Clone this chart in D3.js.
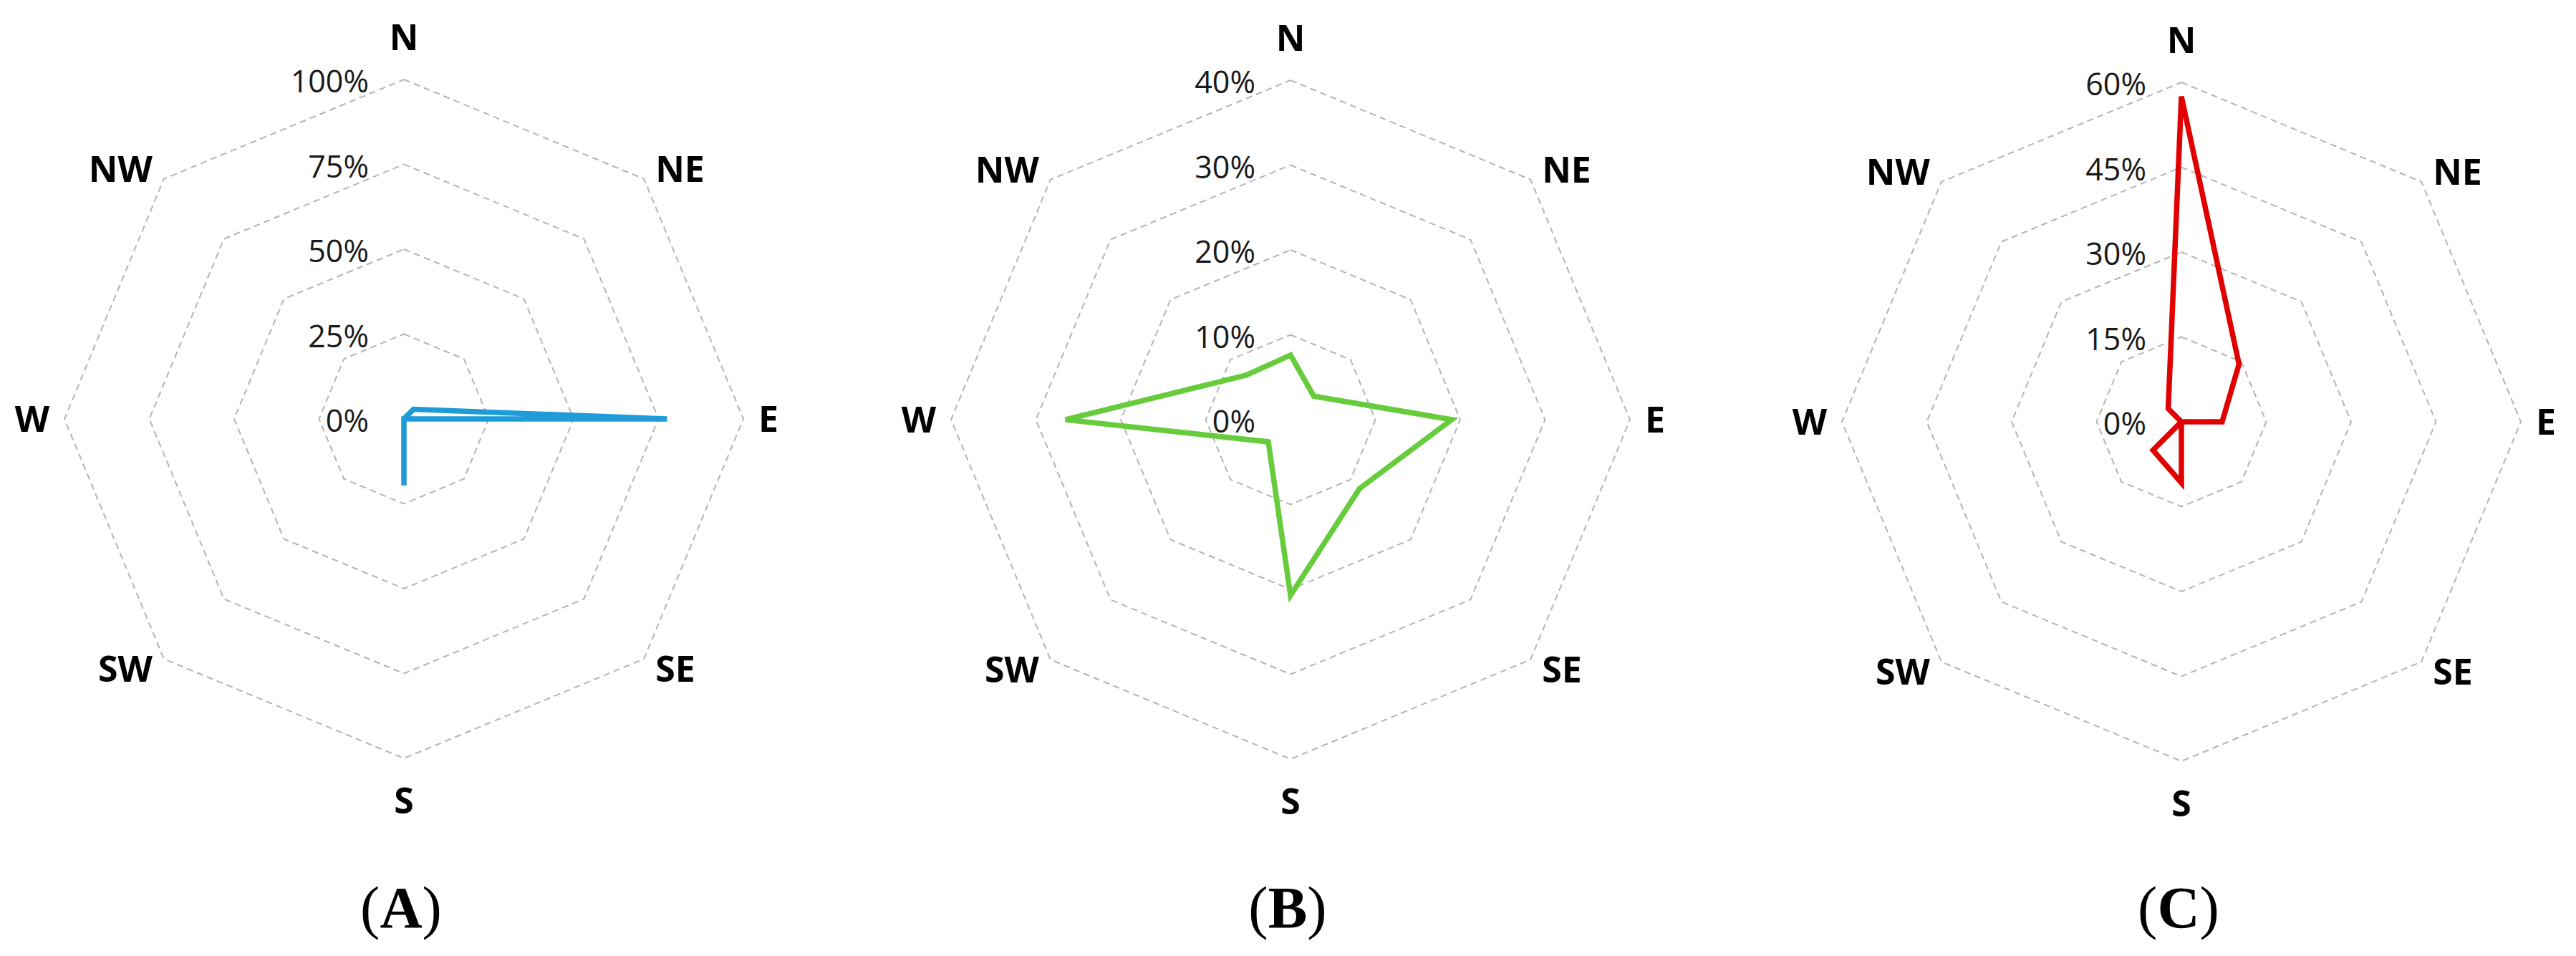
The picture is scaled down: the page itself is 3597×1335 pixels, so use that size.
<!DOCTYPE html>
<html>
<head>
<meta charset="utf-8">
<script src="https://cdn.jsdelivr.net/npm/d3@7"></script>
<style>
  html, body { margin: 0; padding: 0; background: #ffffff; }
  svg { display: block; }
</style>
</head>
<body>
<svg id="chart" width="3597" height="1335"></svg>
<script>
// ---- data ----
const directions = ["N", "NE", "E", "SE", "S", "SW", "W", "NW"];

const valuesA = [0, 4, 77.5, 0, 19.6, 0, 0, 0];
const valuesB = [7.6, 3.9, 19, 11.5, 20.7, 3.7, 26.5, 7.4];
const valuesC = [57.5, 14.4, 7.2, 0, 10.8, 7.1, 0, 3.3];

const ticksA = [0, 25, 50, 75, 100];
const ticksB = [0, 10, 20, 30, 40];
const ticksC = [0, 15, 30, 45, 60];

const panelLetters = ["A", "B", "C"];
const panelValues = [valuesA, valuesB, valuesC];
const panelTicks = [ticksA, ticksB, ticksC];
const panelColors = ["#1f9bd8", "#66cc3c", "#e00000"];

// ---- layout ----
const centers = [[564, 585], [1802, 586], [3046, 589]];
const R = 474;
const svg = d3.select("#chart");
const sansFont = "'Open Sans', 'Noto Sans', 'DejaVu Sans', sans-serif";
const serifFont = "'Liberation Serif', 'Times New Roman', 'DejaVu Serif', serif";
const step = 2 * Math.PI / directions.length;

panelLetters.forEach((letter, p) => {
  const [cx, cy] = centers[p];
  const ticks = panelTicks[p];
  const vals = panelValues[p];
  const rScale = d3.scaleLinear().domain([0, d3.max(ticks)]).range([0, R]);
  const g = svg.append("g").attr("transform", `translate(${cx},${cy})`);

  // grid rings (dashed octagons)
  const ringLine = d3.lineRadial()
    .angle((d, i) => i * step)
    .radius(d => d)
    .curve(d3.curveLinearClosed);
  ticks.filter(t => t > 0).forEach(t => {
    g.append("path")
      .attr("d", ringLine(directions.map(() => rScale(t))))
      .attr("fill", "none")
      .attr("stroke", "#b4b4b4")
      .attr("stroke-width", 2)
      .attr("stroke-dasharray", "9,6");
  });

  // tick labels
  ticks.forEach(t => {
    g.append("text")
      .attr("x", -49)
      .attr("y", -rScale(t) + 18)
      .attr("text-anchor", "end")
      .attr("font-family", sansFont)
      .attr("font-size", 43)
      .attr("fill", "#1a1a1a")
      .text(t + "%");
  });

  // data polygon
  const dataLine = d3.lineRadial()
    .angle((d, i) => i * step)
    .radius(d => rScale(d))
    .curve(d3.curveLinearClosed);
  g.append("path")
    .attr("d", dataLine(vals))
    .attr("fill", "none")
    .attr("stroke", panelColors[p])
    .attr("stroke-width", 7.5)
    .attr("stroke-linejoin", "miter");

  // direction labels
  directions.forEach((dname, i) => {
    const a = i * step;
    const s = Math.sin(a), c = Math.cos(a);
    const vx = R * s, vy = -R * c;
    let anchor = "middle", x = vx;
    if (s > 0.1) { anchor = "start"; x = vx + (Math.abs(c) < 0.1 ? 21 : 16); }
    else if (s < -0.1) { anchor = "end"; x = vx - (Math.abs(c) < 0.1 ? 21 : 16); }
    const k = Math.abs(c) > 0.9 ? 59 : (Math.abs(c) < 0.1 ? 0 : 20);
    const y = vy + 18 - c * k;
    g.append("text")
      .attr("x", x)
      .attr("y", y)
      .attr("text-anchor", anchor)
      .attr("font-family", sansFont)
      .attr("font-weight", "bold")
      .attr("font-size", 50)
      .attr("fill", "#000")
      .text(dname);
  });

  // panel label
  const lab = svg.append("text")
    .attr("x", cx - 4)
    .attr("y", 1295)
    .attr("text-anchor", "middle")
    .attr("font-family", serifFont)
    .attr("font-size", 82)
    .attr("fill", "#000");
  lab.append("tspan").text("(");
  lab.append("tspan").attr("font-weight", "bold").text(letter);
  lab.append("tspan").text(")");
});
</script>
</body>
</html>
